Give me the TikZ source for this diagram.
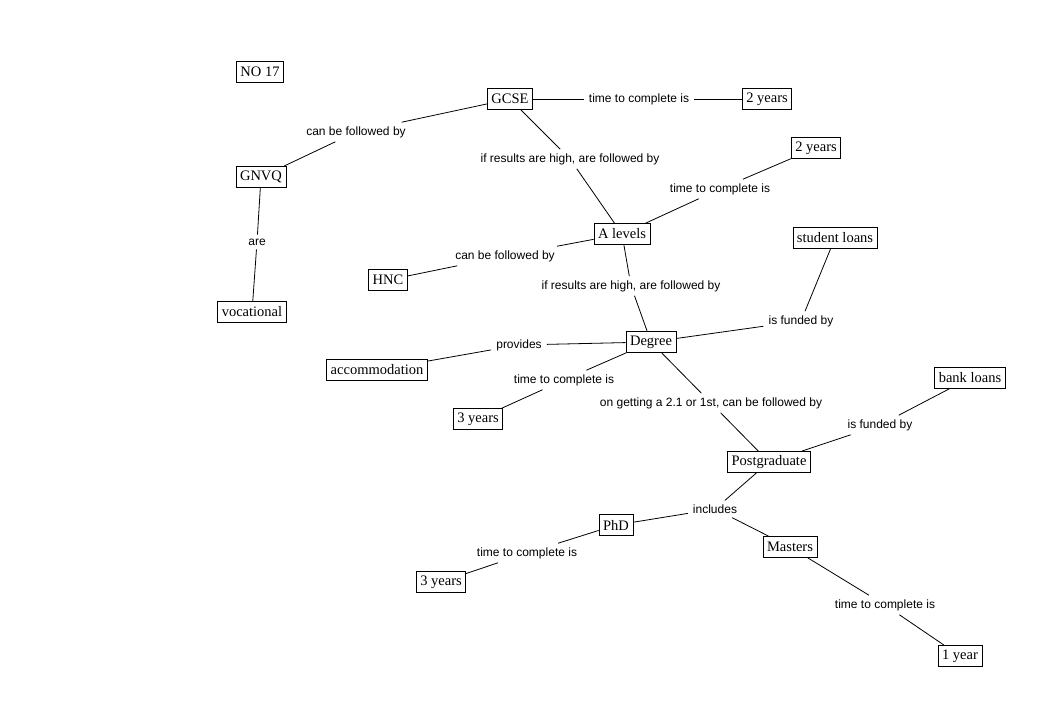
\documentclass[tikz,border=0pt]{standalone}
\usepackage{fontspec}
\setmainfont{Liberation Serif}
\setsansfont{Liberation Sans}
\usetikzlibrary{positioning}

\begin{document}
\begin{tikzpicture}[
  x=1pt, y=-1pt,
  cpt/.style={rectangle, draw, line width=0.8pt, inner xsep=4pt,
              inner ysep=2pt, minimum height=21pt,
              font=\fontsize{14.5}{16}\selectfont},
  lnk/.style={inner xsep=5pt, inner ysep=4pt,
              font=\sffamily\fontsize{12}{14}\selectfont},
  ln/.style={line width=0.8pt},
]
  \useasboundingbox (0,0) rectangle (1051,709);

  %% Concepts
  \node[cpt] (no17)    at (260,72)  {NO 17};
  \node[cpt] (gcse)    at (510,99)  {GCSE};
  \node[cpt] (twoa)    at (767,99)  {2 years};
  \node[cpt] (twob)    at (816,148) {2 years};
  \node[cpt] (gnvq)    at (261,177) {GNVQ};
  \node[cpt] (alev)    at (622,234) {A levels};
  \node[cpt] (stloan)  at (835,238) {student loans};
  \node[cpt] (hnc)     at (388,280) {HNC};
  \node[cpt] (voc)     at (252,312) {vocational};
  \node[cpt] (deg)     at (651,342) {Degree};
  \node[cpt] (accom)   at (377,370) {accommodation};
  \node[cpt] (threea)  at (478,419) {3 years};
  \node[cpt] (bkloan)  at (970,378) {bank loans};
  \node[cpt] (post)    at (769,462) {Postgraduate};
  \node[cpt] (phd)     at (616,525) {PhD};
  \node[cpt] (mast)    at (790,547) {Masters};
  \node[cpt] (threeb)  at (441,582) {3 years};
  \node[cpt] (oney)    at (960,656) {1 year};

  %% Linking phrases
  \node[lnk] (gcsegn)  at (356,132) {can be followed by};
  \node[lnk] (gcsetm)  at (639,99)  {time to complete is};
  \node[lnk] (gcseal)  at (570,159) {if results are high, are followed by};
  \node[lnk] (altm)    at (720,189) {time to complete is};
  \node[lnk] (gnare)   at (257,242) {are};
  \node[lnk] (alhnc)   at (505,256) {can be followed by};
  \node[lnk] (aldeg)   at (631,286) {if results are high, are followed by};
  \node[lnk] (degfund) at (801,321) {is funded by};
  \node[lnk] (degprov) at (519,345) {provides};
  \node[lnk] (degtm)   at (564,380) {time to complete is};
  \node[lnk] (degpost) at (711,403) {on getting a 2.1 or 1st, can be followed by};
  \node[lnk] (pofund)  at (880,425) {is funded by};
  \node[lnk] (poincl)  at (715,509) {includes};
  \node[lnk] (phdtm)   at (527,553) {time to complete is};
  \node[lnk] (masttm)  at (885,605) {time to complete is};

  %% Connections
  \draw[ln] (gcse) -- (gcsegn) -- (gnvq);
  \draw[ln] (gcse) -- (gcsetm) -- (twoa);
  \draw[ln] (gcse) -- (gcseal) -- (alev);
  \draw[ln] (alev) -- (altm) -- (twob);
  \draw[ln] (gnvq) -- (gnare) -- (voc);
  \draw[ln] (alev) -- (alhnc) -- (hnc);
  \draw[ln] (alev) -- (aldeg) -- (deg);
  \draw[ln] (deg) -- (degfund) -- (stloan);
  \draw[ln] (deg) -- (degprov) -- (accom);
  \draw[ln] (deg) -- (degtm) -- (threea);
  \draw[ln] (deg) -- (degpost) -- (post);
  \draw[ln] (post) -- (pofund) -- (bkloan);
  \draw[ln] (post) -- (poincl);
  \draw[ln] (poincl) -- (phd);
  \draw[ln] (poincl) -- (mast);
  \draw[ln] (phd) -- (phdtm) -- (threeb);
  \draw[ln] (mast) -- (masttm) -- (oney);

\end{tikzpicture}
\end{document}
